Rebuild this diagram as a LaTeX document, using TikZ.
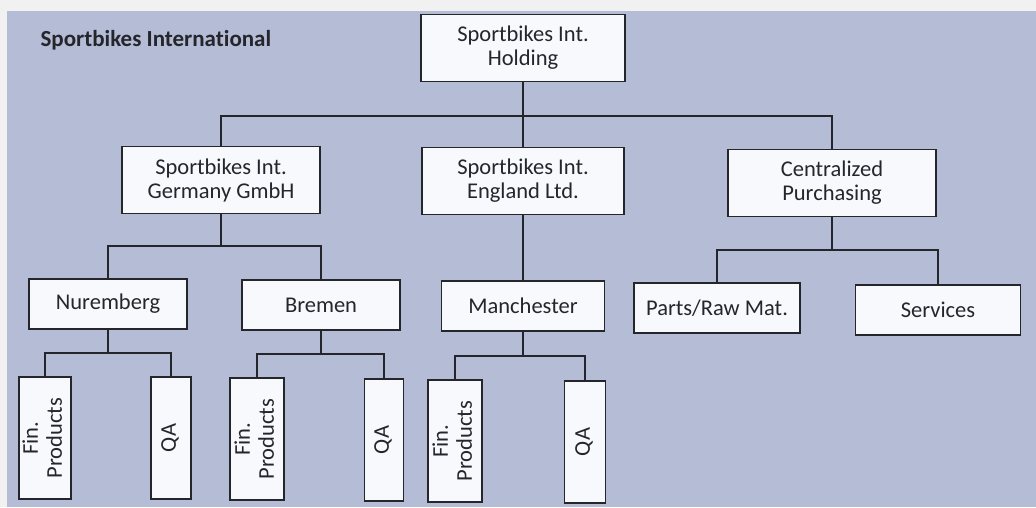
\documentclass[tikz,border=0pt]{standalone}
\usepackage{fontspec}
\usepackage{graphicx}
\setmainfont{Carlito}[Ligatures=NoCommon]
\definecolor{pagegrey}{HTML}{F1F1F2}
\definecolor{panel}{HTML}{B4BDD5}
\definecolor{boxfill}{HTML}{F8F9FC}
\definecolor{ink}{HTML}{25252C}
\tikzset{
  unit/.style={draw=ink, fill=boxfill, line width=1.3pt, rectangle,
    align=center, inner sep=2pt, text=ink,
    font=\fontsize{22.5}{24}\selectfont},
  wide/.style={unit, minimum height=67pt},
  site/.style={unit, minimum height=50pt},
  dept/.style={unit, minimum height=122pt},
  link/.style={draw=ink, line width=1.3pt}
}
\newcommand{\vtext}[1]{\rotatebox{90}{\begin{tabular}{@{}c@{}}#1\end{tabular}}}
\begin{document}
\begin{tikzpicture}[x=1pt,y=-1pt]
  % page and tinted panel
  \fill[pagegrey] (0,0) rectangle (1036,507);
  \fill[panel] (7,11) rectangle (1036,507);
  \useasboundingbox (0,0) rectangle (1036,507);

  \node[anchor=base west, text=ink, font=\fontsize{23}{25}\selectfont\bfseries] (title) at (37,46) {Sportbikes International};

  % top level
  \node[wide, minimum width=204pt] (hold) at (523,48) {Sportbikes Int.\\Holding};

  % second level
  \node[wide, minimum width=198pt] (ger)  at (221,180) {Sportbikes Int.\\Germany GmbH};
  \node[wide, minimum width=202pt] (eng)  at (523,181) {Sportbikes Int.\\England Ltd.};
  \node[wide, minimum width=208pt] (cent) at (832,183) {Centralized\\Purchasing};

  % third level
  \node[site, minimum width=158pt] (nur)   at (108,304) {Nuremberg};
  \node[site, minimum width=158pt] (bre)   at (321,305) {Bremen};
  \node[site, minimum width=163pt] (man)   at (523,306) {Manchester};
  \node[site, minimum width=166pt] (parts) at (717,308) {Parts/Raw Mat.};
  \node[site, minimum width=165pt] (serv)  at (938,310) {Services};

  % departments
  \node[dept, minimum width=52pt] (nurfin) at (45,438)  {\vtext{Fin.\\Products}};
  \node[dept, minimum width=40pt] (nurqa)  at (171,438) {\vtext{QA}};
  \node[dept, minimum width=54pt] (brefin) at (257,439) {\vtext{Fin.\\Products}};
  \node[dept, minimum width=39pt] (breqa)  at (384,440) {\vtext{QA}};
  \node[dept, minimum width=54pt] (manfin) at (455,441) {\vtext{Fin.\\Products}};
  \node[dept, minimum width=41pt] (manqa)  at (585,442) {\vtext{QA}};

  % bus levels
  \coordinate (busA) at (0,116);
  \coordinate (busB) at (0,246);
  \coordinate (busC) at (0,250);
  \coordinate (busN) at (0,353);
  \coordinate (busR) at (0,354);
  \coordinate (busM) at (0,356);

  % holding to subsidiaries
  \draw[link] (hold.south) -- (eng.north);
  \draw[link] (ger.north) -- (ger.north |- busA) -- (cent.north |- busA) -- (cent.north);

  % Germany to sites
  \draw[link] (ger.south) -- (ger.south |- busB);
  \draw[link] (nur.north) -- (nur.north |- busB) -- (bre.north |- busB) -- (bre.north);

  % England to Manchester
  \draw[link] (eng.south) -- (man.north);

  % purchasing split
  \draw[link] (cent.south) -- (cent.south |- busC);
  \draw[link] (parts.north) -- (parts.north |- busC) -- (serv.north |- busC) -- (serv.north);

  % sites to departments
  \draw[link] (nur.south) -- (nur.south |- busN);
  \draw[link] (nurfin.north) -- (nurfin.north |- busN) -- (nurqa.north |- busN) -- (nurqa.north);
  \draw[link] (bre.south) -- (bre.south |- busR);
  \draw[link] (brefin.north) -- (brefin.north |- busR) -- (breqa.north |- busR) -- (breqa.north);
  \draw[link] (man.south) -- (man.south |- busM);
  \draw[link] (manfin.north) -- (manfin.north |- busM) -- (manqa.north |- busM) -- (manqa.north);
\end{tikzpicture}
\end{document}
